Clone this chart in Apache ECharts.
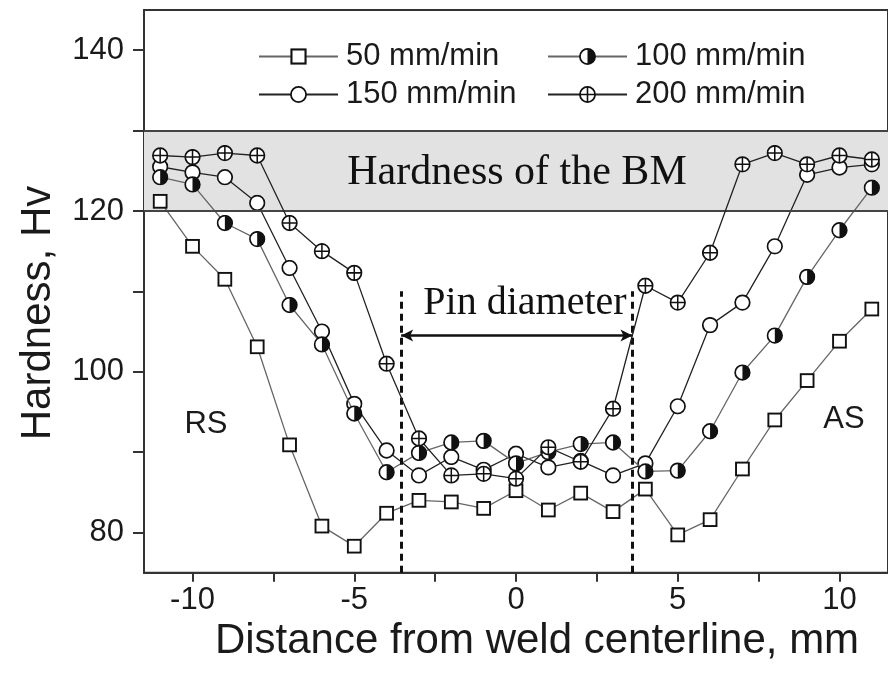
<!DOCTYPE html>
<html>
<head>
<meta charset="utf-8">
<script src="https://cdn.jsdelivr.net/npm/echarts@6/dist/echarts.min.js"></script>
<style>
html,body{margin:0;padding:0;background:#fff;}
#chart{width:888px;height:682px;}
</style>
</head>
<body>
<div id="chart"></div>
<script>
// ---- data ----
var positions = [-11,-10,-9,-8,-7,-6,-5,-4,-3,-2,-1,0,1,2,3,4,5,6,7,8,9,10,11];
var hv50  = [121.2,115.6,111.5,103.1,90.9,80.8,78.3,82.4,84.0,83.8,83.0,85.2,82.8,84.9,82.6,85.4,79.7,81.6,87.9,94.0,98.9,103.8,107.8];
var hv100 = [124.2,123.3,118.5,116.5,108.3,103.4,94.8,87.5,89.9,91.2,91.4,88.6,90.0,91.0,91.2,87.6,87.7,92.6,99.9,104.5,111.8,117.6,122.9];
var hv150 = [125.5,124.8,124.2,121.0,112.9,105.0,96.0,90.2,87.1,89.4,87.8,89.8,88.1,88.9,87.1,88.6,95.7,105.8,108.6,115.6,124.5,125.4,125.8];
var hv200 = [126.9,126.7,127.2,126.9,118.5,115.0,112.3,101.0,91.7,87.1,87.3,86.7,90.6,88.8,95.4,110.7,108.6,114.8,125.8,127.2,125.8,126.9,126.4];
var seriesNames = ['50 mm/min','100 mm/min','150 mm/min','200 mm/min'];
var xTickValues = [-10,-7.5,-5,-2.5,0,2.5,5,7.5,10];
var xLabelValues = [-10,-5,0,5,10];
var yTickValues = [80,90,100,110,120,130,140];
var yLabelValues = [80,100,120,140];
var bmLow = 120, bmHigh = 130;
var pinLeft = -3.55, pinRight = 3.6, pinTop = 110, pinArrowY = 104.5;

function pairs(vals){ return positions.map(function(x,i){ return [x, vals[i]]; }); }
function svgSym(inner){
  return 'image://data:image/svg+xml;charset=utf-8,' + encodeURIComponent(
    '<svg xmlns="http://www.w3.org/2000/svg" width="40" height="40" viewBox="0 0 20 20">' + inner + '</svg>');
}
var symSquare = svgSym('<rect x="2" y="2" width="16" height="16" fill="#fff" stroke="#111" stroke-width="2.4"/>');
var symCircle = svgSym('<circle cx="10" cy="10" r="8.6" fill="#fff" stroke="#111" stroke-width="2"/>');
var symHalf = svgSym('<circle cx="10" cy="10" r="8.6" fill="#fff" stroke="#111" stroke-width="2"/><path d="M10,1.4 A8.6,8.6 0 0 1 10,18.6 Z" fill="#111"/>');
var symPlus = svgSym('<circle cx="10" cy="10" r="8.6" fill="#fff" stroke="#111" stroke-width="2"/><path d="M1.4,10 H18.6 M10,1.4 V18.6" stroke="#111" stroke-width="1.8"/>');

var SANS = '"Liberation Sans", Arial, sans-serif';
var SERIF = '"Liberation Serif", "Times New Roman", serif';

function mkSeries(name, vals, sym, size, lineColor, z){
  return {
    name: name, type: 'line', data: pairs(vals),
    symbol: sym, symbolSize: size, z: z,
    lineStyle: {color: lineColor, width: 1.3},
    itemStyle: {color: '#111'},
    emphasis: {disabled: true}, animation: false
  };
}

var s50 = mkSeries(seriesNames[0], hv50, symSquare, 16, '#666', 3);
var s100 = mkSeries(seriesNames[1], hv100, symHalf, 17, '#666', 4);
var s150 = mkSeries(seriesNames[2], hv150, symCircle, 17, '#222', 3);
var s200 = mkSeries(seriesNames[3], hv200, symPlus, 17, '#222', 5);

s50.markArea = {
  silent: true,
  itemStyle: {color: '#e2e2e2'},
  data: [[{yAxis: bmLow}, {yAxis: bmHigh}]]
};
s50.markLine = {
  silent: true, symbol: 'none', animation: false,
  label: {show: false},
  lineStyle: {color: '#444', width: 2, type: 'solid'},
  data: [
    {yAxis: bmLow}, {yAxis: bmHigh},
    [{coord: [pinLeft, 75], lineStyle: {color: '#111', width: 3, type: [7,5]}}, {coord: [pinLeft, pinTop]}],
    [{coord: [pinRight, 75], lineStyle: {color: '#111', width: 3, type: [7,5]}}, {coord: [pinRight, pinTop]}],
    [{coord: [pinLeft, pinArrowY], symbol: 'arrow', symbolSize: [9, 12], lineStyle: {color: '#111', width: 2.5, type: 'solid'}},
     {coord: [pinRight, pinArrowY], symbol: 'arrow', symbolSize: [9, 12]}]
  ]
};

var chart = echarts.init(document.getElementById('chart'), null, {renderer: 'canvas'});
var legendCommon = {
  orient: 'vertical', itemWidth: 79, itemHeight: 22, itemGap: 7, selectedMode: false, padding: 0,
  textStyle: {fontSize: 31, fontFamily: SANS, color: '#1a1a1a', lineHeight: 31, padding: [0,0,0,3]},
  top: 41
};
chart.setOption({
  backgroundColor: '#fff',
  animation: false,
  grid: {left: 144, top: 10, width: 754, height: 562.7, show: true, borderColor: '#333', borderWidth: 2, backgroundColor: 'transparent'},
  legend: [
    Object.assign({}, legendCommon, {left: 258, data: [seriesNames[0], seriesNames[2]]}),
    Object.assign({}, legendCommon, {left: 547, data: [seriesNames[1], seriesNames[3]]})
  ],
  xAxis: {
    type: 'value', min: -11.5, max: 11.5,
    axisLine: {show: true, onZero: false, lineStyle: {color: '#333', width: 2}},
    axisTick: {show: true, inside: false, length: 9, customValues: xTickValues, lineStyle: {color: '#333', width: 2}},
    axisLabel: {customValues: xLabelValues, fontSize: 31, fontFamily: SANS, color: '#1a1a1a', margin: 12},
    splitLine: {show: false}
  },
  yAxis: {
    type: 'value', min: 75, max: 145,
    axisLine: {show: true, onZero: false, lineStyle: {color: '#333', width: 2}},
    axisTick: {show: true, inside: false, length: 11, customValues: yTickValues, lineStyle: {color: '#333', width: 2}},
    axisLabel: {customValues: yLabelValues, fontSize: 31, fontFamily: SANS, color: '#1a1a1a', margin: 20},
    splitLine: {show: false}
  },
  series: [s50, s150, s100, s200],
  graphic: [
    {type: 'text', x: 517, y: 173, z: 10, silent: true,
     style: {text: 'Hardness of the BM', font: '42px ' + SERIF, fill: '#111', align: 'center', verticalAlign: 'middle'}},
    {type: 'text', x: 525, y: 303, z: 10, silent: true,
     style: {text: 'Pin diameter', font: '40px ' + SERIF, fill: '#111', align: 'center', verticalAlign: 'middle'}},
    {type: 'text', x: 206, y: 424, z: 10, silent: true,
     style: {text: 'RS', font: '31px ' + SANS, fill: '#1a1a1a', align: 'center', verticalAlign: 'middle'}},
    {type: 'text', x: 844, y: 419, z: 10, silent: true,
     style: {text: 'AS', font: '31px ' + SANS, fill: '#1a1a1a', align: 'center', verticalAlign: 'middle'}},
    {type: 'text', x: 537, y: 641, z: 10, silent: true,
     style: {text: 'Distance from weld centerline, mm', font: '42px ' + SANS, fill: '#1a1a1a', align: 'center', verticalAlign: 'middle'}},
    {type: 'text', x: 38, y: 313, rotation: Math.PI / 2, z: 10, silent: true,
     style: {text: 'Hardness, Hv', font: '42px ' + SANS, fill: '#1a1a1a', align: 'center', verticalAlign: 'middle'}}
  ]
});
</script>
</body>
</html>
